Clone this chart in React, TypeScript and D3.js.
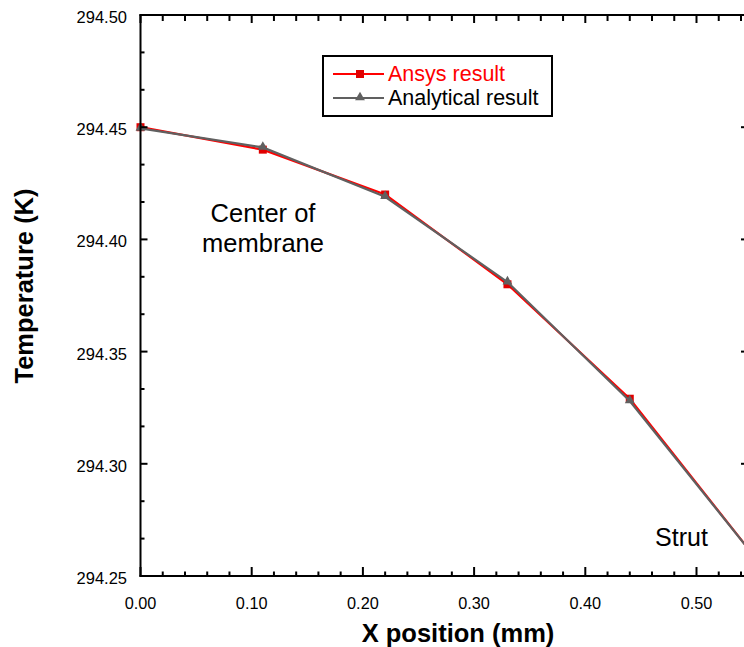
import React from "react";
import * as d3 from "d3";

const xValues = [0, 0.11, 0.22, 0.33, 0.44, 0.55];
const ansysValues = [294.45, 294.44, 294.42, 294.38, 294.329, 294.26];
const analyticalValues = [294.4495, 294.441, 294.419, 294.381, 294.328, 294.26];
const xTickLabels = ["0.00", "0.10", "0.20", "0.30", "0.40", "0.50"];
const yTickLabels = ["294.25", "294.30", "294.35", "294.40", "294.45", "294.50"];
const seriesNames = ["Ansys result", "Analytical result"];

const W = 744, H = 647;
const left = 140.5, top = 15, bottom = 576, rightFrame = 746;
const FONT = "Arial, 'Liberation Sans', sans-serif";

export default function App() {
  const x = d3.scaleLinear().domain([0, 0.55]).range([left, left + 0.55 * 1112]);
  const y = d3.scaleLinear().domain([294.25, 294.5]).range([bottom, top]);

  const xMinor = d3.range(0, 28).map((i) => i * 0.02).filter((v) => x(v) <= rightFrame);
  const yMinor = d3.range(0, 16).map((i) => 294.25 + (i * 0.05) / 3);

  const line = d3
    .line<[number, number]>()
    .x((d) => x(d[0]))
    .y((d) => y(d[1]));

  const ansysPts = xValues.map((v, i) => [v, ansysValues[i]] as [number, number]);
  const anaPts = xValues.map((v, i) => [v, analyticalValues[i]] as [number, number]);
  const tri = d3.symbol().type(d3.symbolTriangle).size(42)();

  return (
    <svg
      width={W}
      height={H}
      style={{ position: "absolute", left: 0, top: 0, background: "#fff" }}
      fontFamily={FONT}
    >
      <rect x={0} y={0} width={W} height={H} fill="#fff" />
      {/* series */}
      <path d={line(ansysPts) || ""} fill="none" stroke="#ff0000" strokeWidth={2.2} />
      {ansysPts.map((p, i) => (
        <rect key={"a" + i} x={x(p[0]) - 4} y={y(p[1]) - 4} width={8} height={8} fill="#e00000" />
      ))}
      <path d={line(anaPts) || ""} fill="none" stroke="#606060" strokeWidth={2.2} />
      {anaPts.map((p, i) => (
        <path key={"b" + i} d={tri || ""} transform={`translate(${x(p[0])},${y(p[1]) - 0.5})`} fill="#606060" />
      ))}

      {/* frame */}
      <g stroke="#000" strokeWidth={2} fill="none">
        <line x1={left} x2={left} y1={top - 1} y2={bottom + 1} />
        <line x1={left - 1} x2={W + 5} y1={bottom} y2={bottom} />
        <line x1={left - 1} x2={W + 5} y1={top} y2={top} />
        <line x1={rightFrame} x2={rightFrame} y1={top} y2={bottom} />
      </g>
      {/* ticks */}
      <g stroke="#000" strokeWidth={2}>
        {xMinor.map((v, i) => {
          const major = i % 5 === 0;
          const len = major ? 9 : 4.5;
          return (
            <g key={"xt" + i}>
              <line x1={x(v)} x2={x(v)} y1={bottom} y2={bottom - len} />
              <line x1={x(v)} x2={x(v)} y1={top} y2={top + (major ? 8 : 6)} />
            </g>
          );
        })}
        {yMinor.map((v, i) => {
          const major = i % 3 === 0;
          return (
            <g key={"yt" + i}>
              <line x1={left} x2={left + (major ? 7 : 4)} y1={y(v)} y2={y(v)} />
              {major && <line x1={rightFrame} x2={rightFrame - 5} y1={y(v)} y2={y(v)} />}
            </g>
          );
        })}
      </g>
      {/* tick labels */}
      {xTickLabels.map((t) => (
        <text key={t} x={x(+t)} y={608.5} textAnchor="middle" fontSize={16.3} fill="#000">
          {t}
        </text>
      ))}
      {yTickLabels.map((t) => (
        <text key={t} x={127} y={y(+t) + 8} textAnchor="end" fontSize={16.5} fill="#000">
          {t}
        </text>
      ))}
      {/* axis titles */}
      <text x={458} y={642} textAnchor="middle" fontSize={25.5} fontWeight="bold" fill="#000">
        X position (mm)
      </text>
      <text
        transform={`translate(33,286) rotate(-90)`}
        textAnchor="middle"
        fontSize={25.5}
        fontWeight="bold"
        fill="#000"
      >
        Temperature (K)
      </text>
      {/* annotations */}
      <text x={263} y={222} textAnchor="middle" fontSize={25.5} fill="#000">Center of</text>
      <text x={263} y={252} textAnchor="middle" fontSize={25.5} fill="#000">membrane</text>
      <text x={681.5} y={546} textAnchor="middle" fontSize={25} fill="#000">Strut</text>

      {/* legend */}
      <rect x={323} y={56} width={229} height={60} fill="#fff" stroke="#000" strokeWidth={2} />
      <line x1={333} x2={384} y1={74} y2={74} stroke="#ff0000" strokeWidth={2.2} />
      <rect x={356} y={70} width={8} height={8} fill="#e00000" />
      <text x={388} y={81} fontSize={21.5} fill="#ff0000">{seriesNames[0]}</text>
      <line x1={333} x2={384} y1={98} y2={98} stroke="#606060" strokeWidth={2.2} />
      <path d={tri || ""} transform="translate(360,97.5)" fill="#606060" />
      <text x={388} y={105} fontSize={21.5} fill="#000">{seriesNames[1]}</text>
    </svg>
  );
}
